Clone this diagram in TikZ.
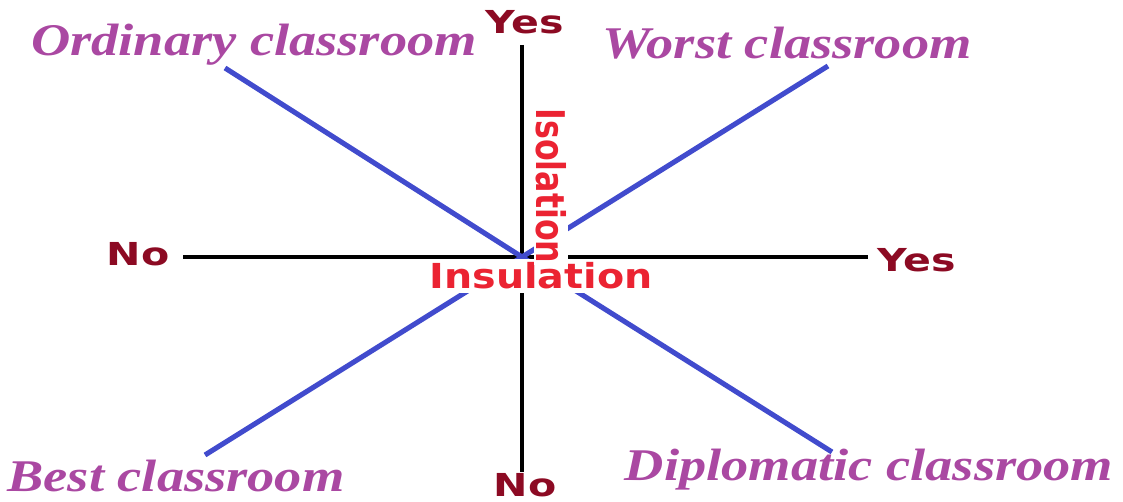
\documentclass[tikz,border=0pt]{standalone}
\usepackage{fontspec}
\usepackage{tikz}
\usetikzlibrary{positioning}
\newfontfamily\ansfont{DejaVu Sans}[FakeStretch=1.3]
\newfontfamily\axfont{DejaVu Sans}[FakeStretch=1.15]
\newfontfamily\isofont{DejaVu Sans}[FakeStretch=0.8]
\newfontfamily\roomfont{Liberation Serif}[FakeStretch=1.2]
\definecolor{ansred}{RGB}{140,10,35}
\definecolor{axred}{RGB}{235,35,50}
\definecolor{quadblue}{RGB}{65,75,205}
\definecolor{roompurple}{RGB}{170,72,162}

\begin{document}
\begin{tikzpicture}[x=0.02cm,y=-0.02cm,
    axis/.style={line width=2.4pt,black},
    quad/.style={line width=2.9pt,quadblue},
    ans/.style={font=\ansfont\bfseries\fontsize{18}{20}\selectfont,text=ansred,inner sep=0pt},
    axname/.style={text=axred,fill=white,inner sep=2pt},
    room/.style={font=\roomfont\bfseries\itshape\fontsize{25.8}{28}\selectfont,text=roompurple,inner sep=0pt}]
  \useasboundingbox (0,0) rectangle (1123,502);
  \coordinate (o) at (522,257);
  % axes
  \coordinate (xl) at (183,257);
  \coordinate (xr) at (868,257);
  \coordinate (yt) at (522,45);
  \coordinate (yb) at (522,472);
  \draw[axis] (xl) -- (xr);
  \draw[axis] (yt) -- (yb);
  \node[ans] (yes-t) at (525,22) {Yes};
  \node[ans] (no-b) at (525,485) {No};
  \node[ans] (no-l) at (138,254) {No};
  \node[ans] (yes-r) at (917,260) {Yes};
  % quadrant lines
  \coordinate (ul) at (225,68);
  \coordinate (ur) at (828,66);
  \coordinate (ll) at (205,455);
  \coordinate (lr) at (832,452);
  \foreach \c in {ul,ur,ll,lr}
    \draw[quad] (o) -- (\c);
  \node[axname,font=\axfont\bfseries\fontsize{19.6}{22}\selectfont] (ins) at (541,276) {Insulation};
  \node[axname,inner sep=1pt,rotate=-90,font=\isofont\bfseries\fontsize{22.5}{25}\selectfont] (iso) at (551,186) {Isolation};
  % classrooms
  \node[room] (ordinary) at (254,45) {Ordinary classroom};
  \node[room] (worst) at (787,43) {Worst classroom};
  \node[room] (best) at (176,476) {Best classroom};
  \node[room] (diplo) at (869,470) {Diplomatic classroom};
\end{tikzpicture}
\end{document}
